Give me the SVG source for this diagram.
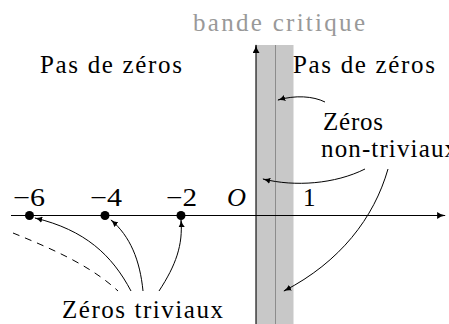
<svg xmlns="http://www.w3.org/2000/svg" width="449" height="324" viewBox="0 0 449 324">
<style>
text{font-family:'Liberation Serif','DejaVu Serif',serif;font-size:25px;fill:#000}
.gray{fill:#999}
.ax{stroke:#000;stroke-width:1.1;fill:none}
.c{stroke:#000;stroke-width:1;fill:none;marker-end:url(#ah)}
.dash{stroke:#000;stroke-width:1;fill:none;stroke-dasharray:7 6}
.dot{fill:#000}
</style>
<defs>
<marker id="ah" viewBox="0 0 10 8" refX="9" refY="4" markerWidth="8" markerHeight="6.4" markerUnits="userSpaceOnUse" orient="auto">
<path d="M0,0 Q3.5,3 10,4 Q3.5,5 0,8 Z" fill="#000"/>
</marker>
<marker id="axh" viewBox="0 0 10 8" refX="9" refY="4" markerWidth="9" markerHeight="7" markerUnits="userSpaceOnUse" orient="auto">
<path d="M0,0 Q3.5,3 10,4 Q3.5,5 0,8 Z" fill="#000"/>
</marker>
</defs>
<g id="band">
<rect x="256" y="45" width="37.5" height="279" fill="#c8c8c8"/>
<line x1="275.5" y1="45" x2="275.5" y2="324" stroke="#8c8c8c" stroke-width="1"/>
</g>
<g id="axes">
<line class="ax" x1="11" y1="215.5" x2="445" y2="215.5" marker-end="url(#axh)"/>
<line class="ax" x1="256" y1="324" x2="256" y2="45" marker-end="url(#axh)"/>
</g>
<g id="title"><text class="gray" x="193" y="31" textLength="172" lengthAdjust="spacing">bande critique</text></g>
<g id="left-region"><text x="40" y="73" textLength="142" lengthAdjust="spacing">Pas de zéros</text></g>
<g id="right-region"><text x="293" y="73" textLength="142" lengthAdjust="spacing">Pas de zéros</text></g>
<g id="nontrivial"><text x="323" y="130" textLength="60" lengthAdjust="spacing">Zéros</text>
<text x="321" y="157" textLength="136" lengthAdjust="spacing">non-triviaux</text></g>
<g id="trivial"><text x="62" y="318" textLength="161" lengthAdjust="spacing">Zéros triviaux</text></g>
<g id="ticks">
<text x="13" y="206" textLength="32" lengthAdjust="spacingAndGlyphs">−6</text>
<text x="90" y="206" textLength="32" lengthAdjust="spacingAndGlyphs">−4</text>
<text x="166" y="206" textLength="31" lengthAdjust="spacingAndGlyphs">−2</text>
<text x="227" y="206" font-style="italic" textLength="19" lengthAdjust="spacingAndGlyphs">O</text>
<text x="303" y="206">1</text>
</g>
<g id="dots">
<circle class="dot" cx="29.5" cy="215.5" r="4.5"/>
<circle class="dot" cx="105" cy="215.5" r="4.5"/>
<circle class="dot" cx="181" cy="215.5" r="4.5"/>
</g>
<g id="connectors">
<path class="c" d="M325,102 C313,96 295,95 278,100"/>
<path class="c" d="M365,169 C335,184 295,187 263,179"/>
<path class="c" d="M388,169 C374,218 340,262 284,291"/>
<path class="c" d="M131,291 C112,255 85,230 35,218"/>
<path class="c" d="M143,291 C140,260 130,236 111,220"/>
<path class="c" d="M159,291 C176,265 183,245 181,220"/>
<path class="dash" d="M13,233 C50,248 90,265 118,291"/>
</g>
</svg>
